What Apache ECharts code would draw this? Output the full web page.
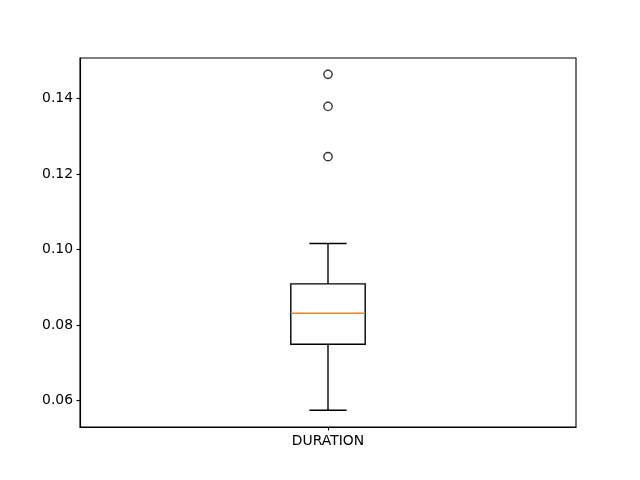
<!DOCTYPE html>
<html>
<head>
<meta charset="utf-8">
<script src="https://cdn.jsdelivr.net/npm/echarts@6/dist/echarts.min.js"></script>
<style>html,body{margin:0;padding:0;background:#fff;}#c{width:640px;height:480px;}</style>
</head>
<body>
<div id="c"></div>
<script>
const categories = ['DURATION'];
const lowerWhisker = [0.0574];
const q1 = [0.0749];
const median = [0.0831];
const q3 = [0.0909];
const upperWhisker = [0.1016];
const outliers = [0.1464, 0.1379, 0.1246];
const yTicks = [0.06, 0.08, 0.10, 0.12, 0.14];

const boxData = categories.map((c, i) => [i, lowerWhisker[i], q1[i], median[i], q3[i], upperWhisker[i]]);
const outlierData = outliers.map(v => [0, v]);

const font = 'DejaVu Sans';
const chart = echarts.init(document.getElementById('c'), null, {renderer: 'canvas'});
chart.setOption({
  animation: false,
  backgroundColor: '#fff',
  grid: {left: 80, right: 64, top: 58, bottom: 53, show: true, borderColor: '#000', borderWidth: 1.1, backgroundColor: 'transparent'},
  xAxis: {
    type: 'category',
    data: categories,
    boundaryGap: true,
    axisLine: {show: true, lineStyle: {color: '#000', width: 1.1}},
    axisTick: {show: true, alignWithLabel: true, length: 3.5, lineStyle: {color: '#000', width: 1.1}},
    axisLabel: {color: '#000', fontFamily: font, fontSize: 13.9, margin: 7},
    splitLine: {show: false}
  },
  yAxis: {
    type: 'value',
    min: 0.05298,
    max: 0.15073,
    axisLine: {show: true, lineStyle: {color: '#000', width: 1.1}},
    axisTick: {show: true, length: 3.5, customValues: yTicks, lineStyle: {color: '#000', width: 1.1}},
    axisLabel: {color: '#000', fontFamily: font, fontSize: 13.9, margin: 7, customValues: yTicks,
      formatter: v => v.toFixed(2)},
    splitLine: {show: false}
  },
  series: [
    {
      type: 'custom',
      data: boxData,
      renderItem: function (params, api) {
        const x = api.value(0);
        const bw = api.size([1, 0])[0];
        const half = bw * 0.15 / 2;
        const capHalf = half / 2;
        const pLow = api.coord([x, api.value(1)]);
        const pQ1 = api.coord([x, api.value(2)]);
        const pMed = api.coord([x, api.value(3)]);
        const pQ3 = api.coord([x, api.value(4)]);
        const pHigh = api.coord([x, api.value(5)]);
        const cx = pQ1[0];
        const black = {stroke: '#000', lineWidth: 1.4, fill: null};
        return {
          type: 'group',
          children: [
            {type: 'line', shape: {x1: cx, y1: pQ1[1], x2: cx, y2: pLow[1]}, style: black},
            {type: 'line', shape: {x1: cx, y1: pQ3[1], x2: cx, y2: pHigh[1]}, style: black},
            {type: 'line', shape: {x1: cx - capHalf, y1: pLow[1], x2: cx + capHalf, y2: pLow[1]}, style: black},
            {type: 'line', shape: {x1: cx - capHalf, y1: pHigh[1], x2: cx + capHalf, y2: pHigh[1]}, style: black},
            {type: 'rect', shape: {x: cx - half, y: pQ3[1], width: half * 2, height: pQ1[1] - pQ3[1]}, style: {stroke: '#000', lineWidth: 1.4, fill: 'none'}},
            {type: 'line', shape: {x1: cx - half, y1: pMed[1], x2: cx + half, y2: pMed[1]}, style: {stroke: '#ff7f0e', lineWidth: 1.4}}
          ]
        };
      }
    },
    {
      type: 'scatter',
      data: outlierData,
      symbol: 'circle',
      symbolSize: 8.3,
      itemStyle: {color: 'rgba(0,0,0,0)', borderColor: '#000', borderWidth: 1.4}
    }
  ]
});
</script>
</body>
</html>
